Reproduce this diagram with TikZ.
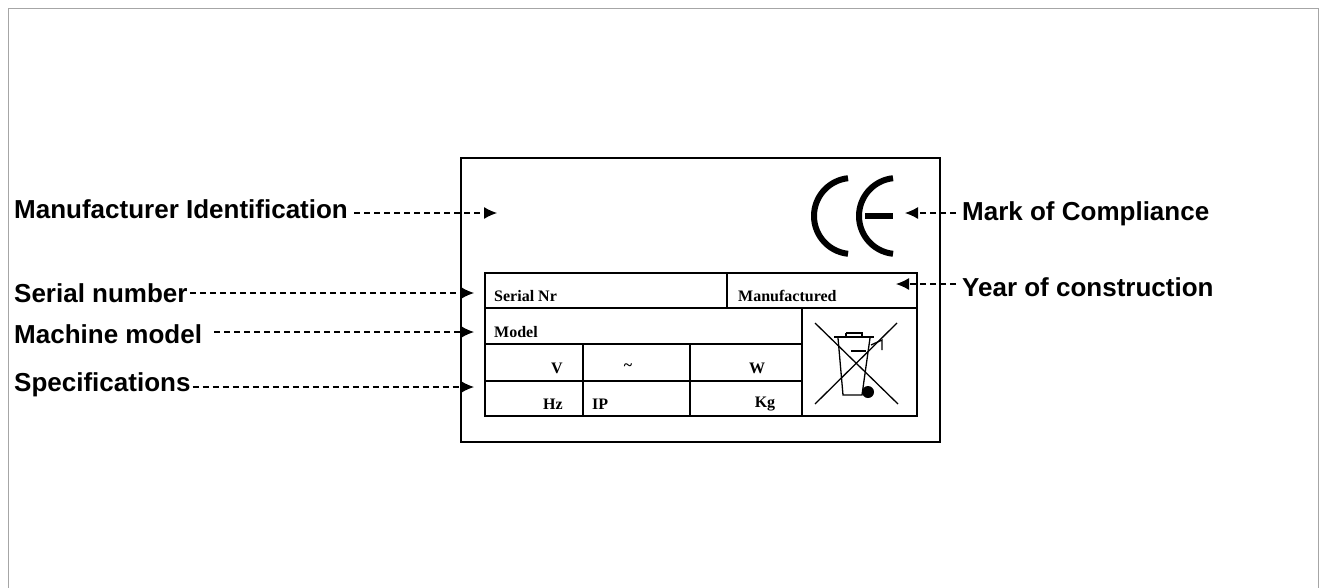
\documentclass[tikz,border=0pt]{standalone}
\usepackage{fontspec}
\setmainfont{Liberation Sans}
\newfontfamily\serifb{Liberation Serif}
\usetikzlibrary{arrows.meta}
\begin{document}
\begin{tikzpicture}[x=1pt,y=-1pt,
 lab/.style={anchor=west,font=\fontsize{26}{28}\selectfont\bfseries,inner sep=0pt},
 cell/.style={font=\serifb\fontsize{16}{17}\selectfont\bfseries,inner sep=0pt},
 ptr/.style={dash pattern=on 6pt off 4pt,line width=1.2pt,-{Latex[length=13pt,width=12pt]}},
 box/.style={line width=1.6pt}]
\useasboundingbox (0,0) rectangle (1323,587);
\draw[gray!70,line width=1pt] (8,8) -- (1318,8) -- (1318,600) (8,8) -- (8,600);
% plate
\draw[line width=2.8pt] (461,158) rectangle (940,442);
\draw[box] (485,273) rectangle (917,416);
\draw[box] (485,308) -- (917,308) (727,273) -- (727,308);
\draw[box] (485,344) -- (802,344) (485,381) -- (802,381) (802,308) -- (802,416);
\draw[box] (583,344) -- (583,416) (690,344) -- (690,416);
\node[cell,anchor=west] (sn) at (494,296) {Serial Nr};
\node[cell,anchor=west] (mf) at (738,296) {Manufactured};
\node[cell,anchor=west] (md) at (494,332) {Model};
\node[cell] (v) at (557,368) {V};
\node[cell] (ac) at (628,367) {\char"007E};
\node[cell] (w) at (757,368) {W};
\node[cell] (hz) at (553,404) {Hz};
\node[cell,anchor=west] (ip) at (592,404) {IP};
\node[cell] (kg) at (765,404) {Kg};
% CE
\draw[line width=6pt] (852,216) ++(96:38) arc (96:264:38);
\draw[line width=6pt] (897,216) ++(96:38) arc (96:264:38);
\draw[line width=6pt] (865,216) -- (893,216);
% WEEE bin
\begin{scope}[line width=1.3pt]
\draw (815,323) -- (898,404) (897,323) -- (815,404);
\draw (838,338) -- (843,395) -- (862,395) -- (870,338);
\draw (834,337) -- (874,337) (846,333) -- (862,333) -- (862,337) (846,333) -- (846,337);
\draw (871,345) -- (882,340) -- (882,350);
\draw (851,351) -- (866,351);
\fill (868,392) circle (6pt);
\end{scope}
% labels
\node[lab] (mi) at (14,209) {Manufacturer Identification};
\node[lab] (sr) at (14,293) {Serial number};
\node[lab] (mm) at (14,334) {Machine model};
\node[lab] (sp) at (14,385) {Specifications};
\node[lab] (mc) at (962,214) {Mark of Compliance};
\node[lab] (yc) at (962,287) {Year of construction};
\coordinate (a1) at (497,213);
\coordinate (a2) at (474,293);
\coordinate (a3) at (474,332);
\coordinate (a4) at (474,387);
\coordinate (a5) at (905,213);
\coordinate (a6) at (896,284);
\draw[ptr] (mi.east |- a1) ++(6,0) -- (a1);
\draw[ptr] (sr.east |- a2) ++(2,0) -- (a2);
\draw[ptr] (mm.east |- a3) ++(12,0) -- (a3);
\draw[ptr] (sp.east |- a4) ++(2,0) -- (a4);
\draw[ptr] (mc.west |- a5) ++(-6,0) -- (a5);
\draw[ptr] (yc.west |- a6) ++(-6,0) -- (a6);
\end{tikzpicture}
\end{document}
